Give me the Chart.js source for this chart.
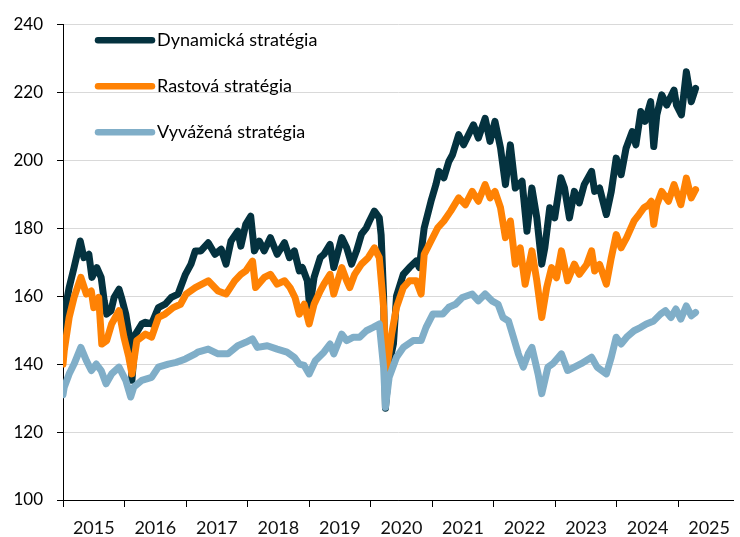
<!DOCTYPE html>
<html>
<head>
<meta charset="utf-8">
<script src="https://cdn.jsdelivr.net/npm/chart.js@4.4.1/dist/chart.umd.min.js"></script>
<style>
  html, body { margin: 0; padding: 0; background: #fff; }
  #wrap { width: 740px; height: 537px; }
</style>
</head>
<body>
<div id="wrap"><canvas id="c" width="740" height="537"></canvas></div>
<script>
// ---- data (decimal years, index values) ----
const seriesNames = ['Dynamická stratégia', 'Rastová stratégia', 'Vyvážená stratégia'];
const yearLabels = ['2015','2016','2017','2018','2019','2020','2021','2022','2023','2024','2025'];

const dynTimes = [2015.00,2015.02,2015.10,2015.18,2015.28,2015.34,2015.42,2015.47,2015.55,2015.62,2015.67,2015.71,2015.78,2015.83,2015.91,2015.95,
  2016.02,2016.10,2016.12,2016.18,2016.28,2016.34,2016.44,2016.55,2016.66,2016.76,2016.87,2016.99,
  2017.08,2017.15,2017.24,2017.36,2017.47,2017.57,2017.65,2017.73,2017.84,2017.89,2017.97,
  2018.05,2018.11,2018.19,2018.27,2018.37,2018.48,2018.60,2018.68,2018.76,2018.84,2018.89,2018.97,
  2019.01,2019.08,2019.18,2019.24,2019.34,2019.40,2019.53,2019.61,2019.69,2019.77,2019.85,2019.93,2019.98,
  2020.06,2020.14,2020.17,2020.21,2020.24,2020.30,2020.37,2020.42,2020.53,2020.63,2020.74,2020.79,2020.87,2020.98,
  2021.06,2021.11,2021.19,2021.27,2021.33,2021.43,2021.51,2021.59,2021.67,2021.75,2021.86,2021.94,
  2022.02,2022.11,2022.19,2022.27,2022.35,2022.46,2022.54,2022.62,2022.70,2022.78,2022.83,2022.91,2022.99,
  2023.09,2023.15,2023.23,2023.31,2023.39,2023.47,2023.59,2023.64,2023.72,2023.83,2023.91,2023.99,
  2024.07,2024.15,2024.25,2024.31,2024.39,2024.46,2024.55,2024.60,2024.65,2024.73,2024.81,2024.93,2024.97,
  2025.05,2025.13,2025.21,2025.28];
const dynValues = [148,154.7,162.5,168.4,176.2,171.3,172.3,165.5,168.4,165.5,158.6,154.7,155.7,159.6,162.0,159.6,
  154.7,145.9,135.2,148.8,151.8,152.3,151.8,156.6,157.6,159.6,160.6,166.4,
  169.4,173.3,173.3,175.7,172.3,173.8,169.4,176.2,179.1,174.7,181.1,
  183.5,173.3,176.2,173.3,177.2,172.3,175.7,171.3,173.3,167.4,168.4,164.5,
  156.6,165.5,171.3,172.3,175.2,168.4,177.2,174.2,169.4,173.3,178.2,180.1,182.1,
  185.0,183.0,178,160,127,140,146,160,166.4,168.4,170.3,168.4,180.1,187.9,
  192.8,196.7,194.8,199.6,201.6,207.5,204.5,207.5,210.4,206.5,212.3,205.5,
  211.4,203.6,192.8,204.5,191.8,193.8,179.1,191.8,183.0,169.4,174.2,186.0,183.0,
  194.8,191.8,183.0,190.8,187.4,192.8,196.7,190.8,191.8,184.0,190.8,200.6,
  195.7,203.5,208.4,204.5,214.3,211.4,217.2,204.0,213.3,219.2,216.2,220.6,216.2,
  213.3,226.0,217.2,221.1];

const rastTimes = [2015.00,2015.02,2015.10,2015.18,2015.29,2015.38,2015.46,2015.50,2015.58,2015.63,2015.71,2015.79,2015.91,2015.99,
  2016.07,2016.12,2016.20,2016.34,2016.44,2016.55,2016.66,2016.79,2016.91,
  2017.00,2017.15,2017.36,2017.52,2017.65,2017.79,2017.89,2017.97,
  2018.08,2018.13,2018.27,2018.37,2018.48,2018.60,2018.69,2018.77,2018.84,2018.92,
  2019.00,2019.08,2019.18,2019.24,2019.34,2019.40,2019.53,2019.61,2019.66,2019.74,2019.85,2019.96,
  2020.06,2020.14,2020.21,2020.25,2020.34,2020.42,2020.53,2020.63,2020.74,2020.82,2020.87,2020.98,
  2021.09,2021.19,2021.30,2021.43,2021.54,2021.65,2021.75,2021.86,2021.94,
  2022.02,2022.11,2022.19,2022.27,2022.35,2022.43,2022.51,2022.62,2022.70,2022.78,2022.86,2022.94,
  2023.02,2023.10,2023.20,2023.31,2023.39,2023.51,2023.59,2023.64,2023.72,2023.83,2023.91,2023.99,
  2024.07,2024.16,2024.28,2024.36,2024.44,2024.52,2024.56,2024.60,2024.65,2024.73,2024.84,2024.93,
  2025.04,2025.13,2025.21,2025.28];
const rastValues = [140,143.9,153.7,159.6,165.5,160.6,161.5,156.6,159.6,145.9,146.9,151.8,155.7,147.9,
  142.0,137.1,146.9,148.8,147.9,153.7,154.7,156.6,157.6,
  160.6,162.5,164.5,161.5,160.6,164.5,166.4,167.4,
  170.3,162.5,165.5,166.4,163.5,164.5,162.5,159.6,154.7,157.6,
  151.8,157.6,161.5,163.5,166.4,160.6,168.4,164.5,162.5,166.4,169.4,171.3,
  174.2,171.3,156.7,137.1,148.8,156.7,162.5,164.5,164.5,160.6,172.3,176.2,
  180.1,182.1,185.0,188.9,186.9,190.8,187.9,192.8,188.9,
  190.8,186.0,177.2,182.1,169.4,174.2,163.5,173.3,164.5,153.7,162.5,168.4,
  165.4,173.3,164.5,169.4,166.4,169.3,173.3,167.4,169.3,163.5,171.3,178.1,
  174.2,177.2,182.1,184.0,186.0,186.9,187.9,181.1,186.9,190.8,187.9,192.8,
  186.9,194.7,188.9,191.3];

const vyvTimes = [2015.00,2015.02,2015.10,2015.18,2015.29,2015.38,2015.46,2015.54,2015.62,2015.70,2015.79,2015.91,
  2016.02,2016.10,2016.15,2016.28,2016.44,2016.55,2016.71,2016.84,2016.99,
  2017.15,2017.19,2017.36,2017.52,2017.68,2017.84,2017.97,
  2018.08,2018.16,2018.32,2018.48,2018.64,2018.76,2018.84,2018.92,
  2019.00,2019.10,2019.24,2019.34,2019.40,2019.53,2019.61,2019.72,2019.82,2019.93,
  2020.04,2020.14,2020.21,2020.24,2020.30,2020.42,2020.53,2020.69,2020.82,2020.90,
  2021.01,2021.17,2021.27,2021.38,2021.49,2021.65,2021.75,2021.86,2021.97,
  2022.07,2022.15,2022.24,2022.32,2022.40,2022.48,2022.56,2022.62,2022.72,2022.78,2022.88,2022.96,
  2023.10,2023.20,2023.31,2023.42,2023.59,2023.68,2023.83,2023.91,2023.99,
  2024.07,2024.16,2024.28,2024.39,2024.48,2024.60,2024.71,2024.79,2024.88,2024.96,
  2025.04,2025.13,2025.21,2025.28];
const vyvValues = [131,133.2,137.1,140.0,144.9,141.0,138.1,140.0,138.1,134.2,137.1,139.1,
  135.2,130.3,133.2,135.2,136.1,139.1,140.0,140.5,141.5,
  143.0,143.5,144.4,143.0,143.0,145.4,146.4,
  147.4,144.9,145.4,144.4,143.5,142.0,140.0,139.6,
  137.1,141.0,143.5,145.9,143.0,148.8,146.9,147.9,147.9,149.8,
  150.8,151.8,139.1,127.3,136.1,142.0,144.9,146.9,146.9,150.8,
  154.7,154.7,156.7,157.6,159.6,160.6,158.6,160.6,158.6,
  157.6,153.7,152.7,147.9,143.0,139.1,143.0,144.9,137.1,131.3,139.1,140.1,
  143.0,138.1,139.1,140.1,142.0,139.1,137.1,142.0,147.9,
  145.9,147.9,149.8,150.8,151.8,152.7,154.7,155.7,153.7,156.2,
  153.2,157.1,154.2,155.2];

const seriesColors = ['#04323f', '#ff8204', '#80aec8'];

function toPoints(ts, vs) { return ts.map((t, i) => ({ x: t, y: vs[i] })); }

const legendPlugin = {
  id: 'insideLegend',
  afterDraw(chart) {
    const ctx = chart.ctx, a = chart.chartArea;
    ctx.save();
    chart.data.datasets.forEach((ds, i) => {
      const y = a.top + 16 + i * 46;
      ctx.strokeStyle = ds.borderColor;
      ctx.lineWidth = 6.5;
      ctx.lineCap = 'round';
      ctx.beginPath();
      ctx.moveTo(a.left + 35, y);
      ctx.lineTo(a.left + 89, y);
      ctx.stroke();
      ctx.fillStyle = '#000';
      ctx.font = '18px Lato';
      ctx.textBaseline = 'middle';
      ctx.textAlign = 'left';
      ctx.fillText(ds.label, a.left + 94, y);
    });
    ctx.restore();
  }
};

new Chart(document.getElementById('c'), {
  type: 'line',
  data: {
    datasets: [
      { label: seriesNames[0], data: toPoints(dynTimes, dynValues), borderColor: seriesColors[0], order: 3 },
      { label: seriesNames[1], data: toPoints(rastTimes, rastValues), borderColor: seriesColors[1], order: 2 },
      { label: seriesNames[2], data: toPoints(vyvTimes, vyvValues), borderColor: seriesColors[2], order: 1 }
    ]
  },
  options: {
    responsive: false,
    animation: false,
    devicePixelRatio: 1,
    layout: { padding: { top: 22, right: 0, left: 0, bottom: 0 } },
    elements: {
      line: { borderWidth: 7, tension: 0, borderJoinStyle: 'round', borderCapStyle: 'round' },
      point: { radius: 0 }
    },
    plugins: { legend: { display: false }, tooltip: { enabled: false } },
    scales: {
      x: {
        type: 'linear',
        min: 2015,
        max: 2025.89,
        afterBuildTicks(scale) {
          const t = [];
          yearLabels.forEach((lab, i) => { t.push({ value: 2015 + i }); t.push({ value: 2015 + i + 0.5 }); });
          scale.ticks = t;
        },
        afterFit(scale) { scale.height = 37; },
        grid: {
          drawOnChartArea: false,
          tickLength: 7,
          tickColor: (c) => (c.tick && Number.isInteger(c.tick.value)) ? '#000' : 'rgba(0,0,0,0)'
        },
        border: { color: '#000', width: 1 },
        ticks: {
          autoSkip: false,
          maxRotation: 0,
          padding: 10,
          color: '#111',
          font: { family: 'Lato', size: 18 },
          callback: (v) => Number.isInteger(v) ? '' : yearLabels[Math.floor(v) - 2015]
        }
      },
      y: {
        min: 100,
        max: 240,
        afterFit(scale) { scale.width = 63; },
        ticks: { stepSize: 20, padding: 14, color: '#000', font: { family: 'Lato', size: 17 } },
        grid: {
          color: (c) => (c.tick && c.tick.value === 100) ? '#000' : '#d9d9d9',
          tickColor: '#000',
          tickLength: 6,
          lineWidth: 1
        },
        border: { color: '#000', width: 1 }
      }
    }
  },
  plugins: [legendPlugin]
});
</script>
</body>
</html>
